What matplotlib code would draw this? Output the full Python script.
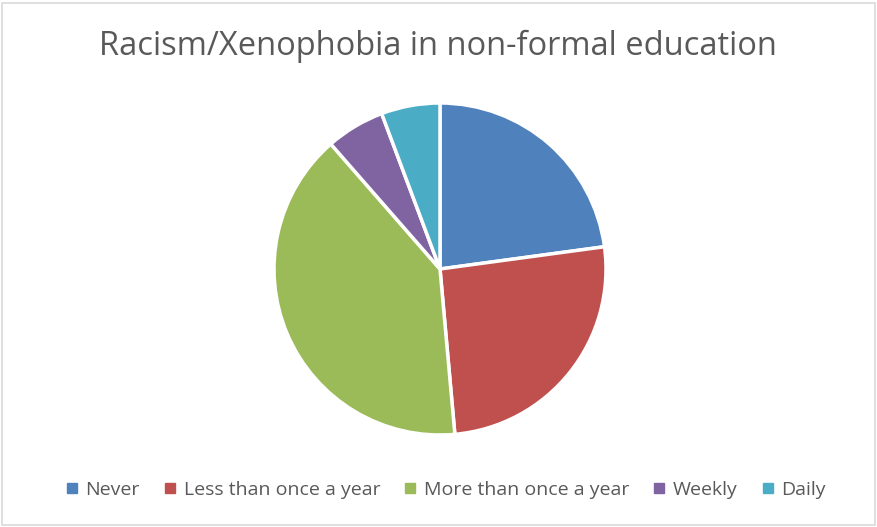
import matplotlib.pyplot as plt
from matplotlib.patches import Rectangle
from matplotlib.lines import Line2D

plt.rcParams['font.family'] = ['Open Sans', 'DejaVu Sans']

labels = ['Never', 'Less than once a year', 'More than once a year', 'Weekly', 'Daily']
counts = [8, 9, 14, 2, 2]
colors = ['#4F81BD', '#C0504D', '#9BBB59', '#8064A2', '#4BACC6']

fig = plt.figure(figsize=(8.77, 5.27), dpi=100)

# light grey frame around the chart area
fig.patches.append(Rectangle((2 / 877, 2 / 527), 873 / 877, 522 / 527,
                             transform=fig.transFigure, fill=False,
                             edgecolor='#D9D9D9', linewidth=1.2))

cx, cy, r = 440, 269, 166
ax = fig.add_axes([(cx - r) / 877, (527 - cy - r) / 527, 2 * r / 877, 2 * r / 527])
ax.pie(counts, colors=colors, startangle=90, counterclock=False,
       wedgeprops={'edgecolor': 'white', 'linewidth': 2.5})
ax.set_xlim(-1, 1)
ax.set_ylim(-1, 1)
ax.set_aspect('equal')

fig.text(438 / 877, 1 - 46 / 527, 'Racism/Xenophobia in non-formal education',
         ha='center', va='center', fontsize=23.5, color='#595959')

handles = [Line2D([], [], marker='s', linestyle='none', markersize=6.5,
                  markerfacecolor=c, markeredgecolor=c) for c in colors]
fig.legend(handles, labels, loc='center', bbox_to_anchor=(446 / 877, 1 - 490 / 527),
           ncol=5, frameon=False, fontsize=14, handlelength=0.6,
           handletextpad=0.4, columnspacing=1.25, labelcolor='#595959')

fig.savefig('out.png', dpi=100)
